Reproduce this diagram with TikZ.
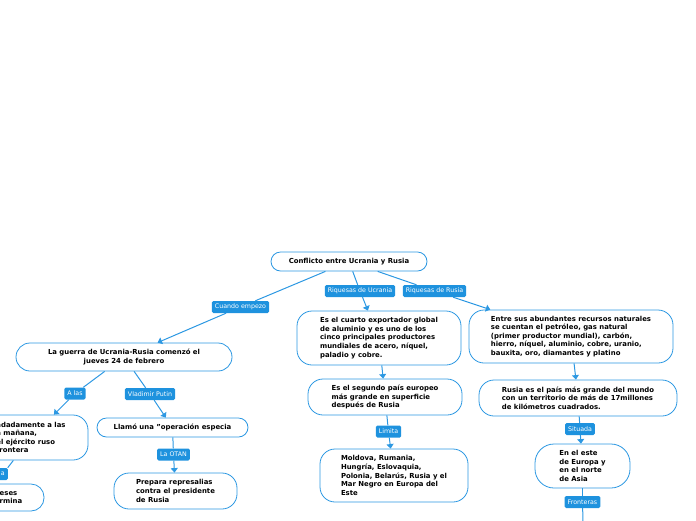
\documentclass[tikz,border=0pt]{standalone}
\usepackage{fontspec}
\setmainfont{DejaVu Sans}
\usetikzlibrary{arrows.meta}
\definecolor{mapblue}{RGB}{30,146,222}
\definecolor{mapline}{RGB}{44,152,226}
\tikzset{
  topic/.style={draw=mapline,line width=0.8pt,fill=white,rounded corners=#1,inner sep=0pt,align=left,font=\bfseries\fontsize{6.9}{8.6}\selectfont},
  topic/.default=15pt,
  tag/.style={fill=mapblue,text=white,rounded corners=1.5pt,inner xsep=3pt,inner ysep=0pt,minimum height=12pt,font=\fontsize{6.3}{7}\selectfont},
  link/.style={draw=mapline,line width=1pt},
}

\begin{document}
\begin{tikzpicture}[x=1pt,y=-1pt,>={Triangle[width=7pt,length=4.5pt]}]
  \useasboundingbox (0,0) rectangle (696,520);
  % topics
  \node[topic=9.5pt,align=center,minimum width=156pt,minimum height=19pt] (root) at (349,261.5) {Conflicto entre Ucrania y Rusia};
  \node[topic=14pt,align=center,minimum width=216pt,minimum height=28pt] (guerra) at (124,357) {La guerra de Ucrania-Rusia comenzó el\\jueves 24 de febrero};
  \node[topic,minimum width=114pt,minimum height=45pt] (aprox) at (31,437.5) {adadamente a las\\a mañana,\\el ejército ruso\\ frontera};
  \node[topic=13pt,minimum width=66pt,minimum height=27pt] (meses) at (11,497.5) {eses\\rmina};
  \node[topic=9.5pt,align=center,minimum width=151pt,minimum height=19pt] (llamo) at (172.5,427.5) {Llamó una ”operación especia};
  \node[topic,minimum width=123pt,minimum height=36pt] (prepara) at (175.5,491) {Prepara represalias\\contra el presidente\\de Rusia};
  \node[topic,minimum width=164pt,minimum height=54pt] (cuarto) at (379,338) {Es el cuarto exportador global\\de aluminio y es uno de los\\cinco principales productores\\mundiales de acero, níquel,\\paladio y cobre.};
  \node[topic,minimum width=154pt,minimum height=36pt] (segundo) at (385,397) {Es el segundo país europeo\\más grande en superficie\\después de Rusia};
  \node[topic,minimum width=148pt,minimum height=53pt] (moldova) at (394,475.5) {Moldova, Rumania,\\Hungría, Eslovaquia,\\Polonia, Belarús, Rusia y el\\Mar Negro en Europa del\\Este};
  \node[topic,minimum width=204pt,minimum height=53pt] (entre) at (571,336.5) {Entre sus abundantes recursos naturales\\se cuentan el petróleo, gas natural\\(primer productor mundial), carbón,\\hierro, níquel, aluminio, cobre, uranio,\\bauxita, oro, diamantes y platino};
  \node[topic,minimum width=198pt,minimum height=36pt] (rusiaes) at (578,398) {Rusia es el país más grande del mundo\\con un territorio de más de 17millones\\de kilómetros cuadrados.};
  \node[topic=19pt,minimum width=95pt,minimum height=44pt] (este) at (582.5,466) {En el este\\de Europa y\\en el norte\\de Asia};
  \coordinate (fronend) at (583,522);
  % labels
  \node[tag] (cuando) at (240.5,307) {Cuando empezo};
  \node[tag] (rucrania) at (360,291) {Riquesas de Ucrania};
  \node[tag] (rrusia) at (434.5,291) {Riquesas de Rusia};
  \node[tag] (alas) at (75,393.5) {A las};
  \node[tag] (putin) at (150,394) {Vladimir Putin};
  \node[tag,anchor=east] (lbla) at (8,474) {a};
  \node[tag] (otan) at (173.5,454.5) {La OTAN};
  \node[tag] (limita) at (388.5,431.5) {Limita};
  \node[tag] (situada) at (580,429) {Situada};
  \node[tag] (fronteras) at (582.5,502) {Fronteras};
  % links
  \path[link] (root) -- (cuando);
  \path[link,->] (cuando) -- (guerra);
  \path[link] (root) -- (rucrania);
  \path[link,->] (rucrania) -- (cuarto);
  \path[link] (root) -- (rrusia);
  \path[link,->] (rrusia) -- (entre);
  \path[link] (guerra) -- (alas);
  \path[link,->] (alas) -- (aprox);
  \path[link] (aprox) -- (lbla);
  \path[link,->] (lbla.south west) -- (meses.north west);
  \path[link] (guerra) -- (putin);
  \path[link,->] (putin) -- (llamo);
  \path[link] (llamo) -- (otan);
  \path[link,->] (otan) -- (prepara);
  \path[link,->] (cuarto) -- (segundo);
  \path[link] (segundo) -- (limita);
  \path[link,->] (limita) -- (moldova);
  \path[link,->] (entre) -- (rusiaes);
  \path[link] (rusiaes) -- (situada);
  \path[link,->] (situada) -- (este);
  \path[link] (este) -- (fronteras);
  \path[link] (fronteras) -- (fronend);
\end{tikzpicture}
\end{document}
